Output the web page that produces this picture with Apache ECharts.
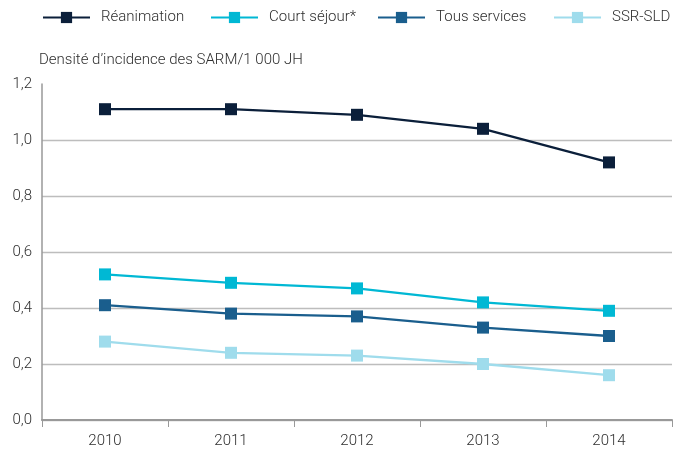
<!DOCTYPE html>
<html>
<head>
<meta charset="utf-8">
<script src="https://cdn.jsdelivr.net/npm/echarts@6/dist/echarts.min.js"></script>
<style>
  html, body { margin: 0; padding: 0; background: #fff; }
  #chart { width: 674px; height: 455px; }
</style>
</head>
<body>
<div id="chart"></div>
<script>
// Densité d'incidence des SARM pour 1 000 journées d'hospitalisation
var years = ['2010', '2011', '2012', '2013', '2014'];
var reanimation = [1.11, 1.11, 1.09, 1.04, 0.92];
var courtSejour = [0.52, 0.49, 0.47, 0.42, 0.39];
var tousServices = [0.41, 0.38, 0.37, 0.33, 0.30];
var ssrSld = [0.28, 0.24, 0.23, 0.20, 0.16];
var seriesNames = ['Réanimation', 'Court séjour*', 'Tous services', 'SSR-SLD'];
var axisTitle = 'Densité d\u2019incidence des SARM/1 000 JH';

var FONT = 'Roboto, "Liberation Sans", Arial, sans-serif';
var FW = 300;
var FS = 15;
var TEXT = '#2e2e2e';
var colors = ['#0b1f3a', '#00b8d4', '#1a5e8d', '#9fdcec'];
var legendLefts = [42, 210, 377, 553];

function lineSeries(name, data, color) {
  return {
    name: name,
    type: 'line',
    data: data,
    symbol: 'rect',
    symbolSize: 12,
    lineStyle: { color: color, width: 2.3 },
    itemStyle: { color: color },
    emphasis: { disabled: true },
    z: 3
  };
}

// one legend block per series so each entry sits at its own spot
var legends = seriesNames.map(function (name, i) {
  return {
    top: 10,
    left: legendLefts[i],
    padding: 0,
    itemWidth: 47,
    itemHeight: 14,
    selectedMode: false,
    textStyle: { fontFamily: FONT, fontWeight: FW, fontSize: FS, color: TEXT, padding: [0, 0, 0, 6] },
    data: [name]
  };
});

var chart = echarts.init(document.getElementById('chart'), null, { renderer: 'canvas' });
chart.setOption({
  animation: false,
  color: colors,
  textStyle: { fontFamily: FONT, fontWeight: FW },
  legend: legends,
  grid: { left: 42, right: 2, top: 84, bottom: 35, containLabel: false },
  xAxis: {
    type: 'category',
    data: years,
    boundaryGap: true,
    axisLine: { lineStyle: { color: '#999999', width: 2 } },
    axisTick: { show: true, length: 7, lineStyle: { color: '#999999', width: 1 } },
    axisLabel: { fontFamily: FONT, fontWeight: FW, fontSize: FS, color: TEXT, margin: 14 }
  },
  yAxis: {
    type: 'value',
    min: 0,
    max: 1.2,
    interval: 0.2,
    name: axisTitle,
    nameLocation: 'end',
    nameGap: 16,
    nameTextStyle: { fontFamily: FONT, fontWeight: FW, fontSize: FS, color: TEXT, align: 'left', padding: [0, 0, 0, -3] },
    axisLine: { show: true, lineStyle: { color: '#999999', width: 1.5 } },
    axisTick: { show: false },
    axisLabel: {
      fontFamily: FONT, fontWeight: FW, fontSize: FS, color: TEXT, margin: 10,
      formatter: function (v) { return v.toFixed(1).replace('.', ','); }
    },
    splitLine: { show: true, showMaxLine: false, lineStyle: { color: '#bdbdbd', width: 1.3 } }
  },
  series: [
    lineSeries(seriesNames[0], reanimation, colors[0]),
    lineSeries(seriesNames[1], courtSejour, colors[1]),
    lineSeries(seriesNames[2], tousServices, colors[2]),
    lineSeries(seriesNames[3], ssrSld, colors[3])
  ]
});
</script>
</body>
</html>
